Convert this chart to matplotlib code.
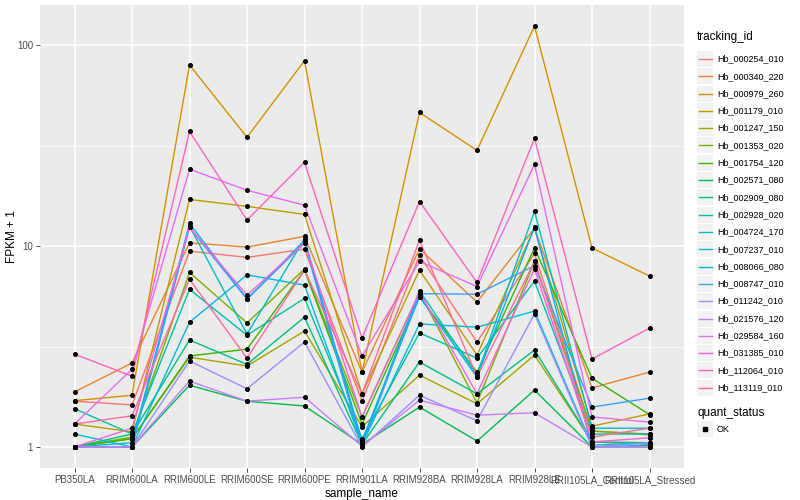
import math
import numpy as np
import matplotlib
matplotlib.use("Agg")
import matplotlib.pyplot as plt
from matplotlib.lines import Line2D
from matplotlib.patches import Rectangle

plt.rcParams['font.family'] = ['Liberation Sans', 'DejaVu Sans']

samples = ["PB350LA", "RRIM600LA", "RRIM600LE", "RRIM600SE", "RRIM600PE",
           "RRIM901LA", "RRIM928BA", "RRIM928LA", "RRIM928LE",
           "RRII105LA_Control", "RRII105LA_Stressed"]

tracking_ids = ["Hb_000254_010", "Hb_000340_220", "Hb_000979_260", "Hb_001179_010",
                "Hb_001247_150", "Hb_001353_020", "Hb_001754_120", "Hb_002571_080",
                "Hb_002909_080", "Hb_002928_020", "Hb_004724_170", "Hb_007237_010",
                "Hb_008066_080", "Hb_008747_010", "Hb_011242_010", "Hb_021576_120",
                "Hb_029584_160", "Hb_031385_010", "Hb_112064_010", "Hb_113119_010"]

# FPKM + 1 values per tracking_id across samples
hb_000254_010 = [1.69, 1.62, 9.45, 8.8, 9.67, 1.69, 9.0, 3.33, 9.2, 1.2, 1.16]
hb_000340_220 = [1.88, 2.62, 10.4, 9.9, 11.2, 2.36, 9.7, 5.27, 12.3, 1.97, 2.36]
hb_000979_260 = [1.70, 1.81, 80.0, 34.9, 84.0, 2.36, 46.4, 30.0, 125.0, 9.8, 7.1]
hb_001179_010 = [1.30, 1.19, 17.1, 15.8, 14.4, 1.84, 7.6, 2.87, 12.3, 1.27, 1.46]
hb_001247_150 = [1.0, 1.10, 2.80, 2.53, 3.78, 1.26, 2.28, 1.64, 2.87, 1.06, 1.03]
hb_001353_020 = [1.0, 1.12, 7.4, 4.15, 7.7, 1.41, 5.9, 1.66, 8.4, 1.2, 1.15]
hb_001754_120 = [1.0, 1.10, 2.84, 3.07, 7.6, 1.30, 5.6, 2.36, 9.8, 2.2, 1.45]
hb_002571_080 = [1.0, 1.0, 2.03, 1.69, 1.60, 1.03, 1.58, 1.07, 1.92, 1.0, 1.0]
hb_002909_080 = [1.0, 1.16, 3.41, 2.58, 4.43, 1.03, 2.65, 1.84, 3.04, 1.06, 1.05]
hb_002928_020 = [1.55, 1.16, 6.1, 3.6, 5.5, 1.10, 3.7, 2.77, 6.7, 1.16, 1.16]
hb_004724_170 = [1.0, 1.05, 12.6, 3.65, 10.9, 1.05, 6.0, 2.28, 14.9, 1.24, 1.24]
hb_007237_010 = [1.16, 1.0, 4.18, 7.2, 6.4, 1.03, 4.1, 3.95, 4.75, 1.02, 1.05]
hb_008066_080 = [1.0, 1.0, 13.0, 5.45, 10.7, 1.07, 5.6, 2.23, 12.5, 1.0, 1.02]
hb_008747_010 = [1.0, 1.0, 12.4, 5.45, 10.4, 1.01, 5.8, 5.77, 8.0, 1.58, 1.75]
hb_011242_010 = [1.0, 1.0, 2.68, 1.95, 3.33, 1.0, 1.81, 1.35, 4.6, 1.0, 1.05]
hb_021576_120 = [1.0, 1.0, 2.13, 1.69, 1.77, 1.01, 1.71, 1.44, 1.48, 1.0, 1.0]
hb_029584_160 = [1.30, 2.44, 24.2, 19.0, 16.0, 2.84, 8.4, 6.3, 25.6, 1.41, 1.33]
hb_031385_010 = [1.0, 1.24, 12.4, 5.7, 10.4, 1.41, 5.9, 1.84, 7.7, 1.06, 1.11]
hb_112064_010 = [2.90, 2.25, 37.3, 13.5, 26.2, 3.49, 16.7, 6.6, 34.5, 2.74, 3.91]
hb_113119_010 = [1.30, 1.43, 6.85, 2.77, 7.6, 1.84, 10.7, 2.23, 8.4, 1.12, 1.24]

series = [hb_000254_010, hb_000340_220, hb_000979_260, hb_001179_010, hb_001247_150,
          hb_001353_020, hb_001754_120, hb_002571_080, hb_002909_080, hb_002928_020,
          hb_004724_170, hb_007237_010, hb_008066_080, hb_008747_010, hb_011242_010,
          hb_021576_120, hb_029584_160, hb_031385_010, hb_112064_010, hb_113119_010]


def hcl_to_rgb(h, c=100.0, l=65.0):
    hr = math.radians(h)
    u, v = c * math.cos(hr), c * math.sin(hr)
    Xn, Yn, Zn = 95.047, 100.0, 108.883
    den = Xn + 15 * Yn + 3 * Zn
    un, vn = 4 * Xn / den, 9 * Yn / den
    Y = Yn * ((l + 16) / 116) ** 3 if l > 8 else Yn * l / 903.3
    up = u / (13 * l) + un
    vp = v / (13 * l) + vn
    X = 9 * Y * up / (4 * vp)
    Z = -X / 3 - 5 * Y + 3 * Y / vp
    X, Y, Z = X / 100, Y / 100, Z / 100
    r = 3.240479 * X - 1.537150 * Y - 0.498535 * Z
    g = -0.969256 * X + 1.875992 * Y + 0.041556 * Z
    b = 0.055648 * X - 0.204043 * Y + 1.057311 * Z

    def gam(t):
        t = 12.92 * t if t <= 0.0031308 else 1.055 * t ** (1 / 2.4) - 0.055
        return min(1.0, max(0.0, t))
    return (gam(r), gam(g), gam(b))


n = len(tracking_ids)
colors = [hcl_to_rgb(15 + 360 * i / n) for i in range(n)]

W, H = 800, 500
fig = plt.figure(figsize=(8, 5), dpi=100)
px_l, px_r, px_t, px_b = 40, 684, 5, 468
ax = fig.add_axes([px_l / W, 1 - px_b / H, (px_r - px_l) / W, (px_b - px_t) / H])
ax.set_facecolor("#EBEBEB")

x = np.arange(len(samples))
for vals, col in zip(series, colors):
    ax.plot(x, vals, color=col, lw=1.0, zorder=3)
for vals in series:
    ax.plot(x, vals, linestyle="none", marker="o", ms=2.6, color="black", zorder=4)

ax.set_yscale("log")
allv = np.concatenate([np.array(s) for s in series])
lo, hi = np.log10(allv.min()), np.log10(allv.max())
pad = 0.05 * (hi - lo)
ax.set_ylim(10 ** (lo - pad), 10 ** (hi + pad))
ax.set_xlim(-0.6, len(samples) - 0.4)

ax.set_yticks([1, 10, 100])
ax.set_yticklabels(["1", "10", "100"])
ax.set_yticks([10 ** 0.5, 10 ** 1.5], minor=True)
ax.yaxis.set_minor_formatter(matplotlib.ticker.NullFormatter())
ax.set_xticks(x)
ax.set_xticklabels(samples)

ax.grid(True, which="major", color="white", lw=1.1, zorder=0)
ax.grid(True, which="minor", axis="y", color="white", lw=0.5, zorder=0)
ax.set_axisbelow(True)
for s in ax.spines.values():
    s.set_visible(False)
ax.tick_params(axis="both", which="major", length=3, width=0.6, color="#333333",
               labelcolor="#4D4D4D", labelsize=7, pad=2)
ax.tick_params(axis="y", which="minor", length=0)

ax.set_xlabel("sample_name", fontsize=8.5, labelpad=2)
ax.set_ylabel("FPKM + 1", fontsize=8.5)
ax.yaxis.set_label_coords((18 - px_l) / (px_r - px_l), 0.5)

# legend (drawn in figure pixel coords)
def fx(p):
    return p / W

def fy(p):
    return 1 - p / H

fig.text(fx(697), fy(40), "tracking_id", fontsize=8.5, va="baseline", ha="left")
y0, dy = 59, 17.3
for i, (tid, col) in enumerate(zip(tracking_ids, colors)):
    yc = y0 + i * dy
    fig.patches.append(Rectangle((fx(697), fy(yc + 8)), fx(16), 16 / H,
                                 transform=fig.transFigure, facecolor="#F2F2F2",
                                 edgecolor="none"))
    fig.lines.append(Line2D([fx(698.5), fx(711.5)], [fy(yc), fy(yc)],
                            transform=fig.transFigure, color=col, lw=1.0))
    fig.text(fx(717), fy(yc), tid, fontsize=6.5, va="center", ha="left")

fig.text(fx(697), fy(416), "quant_status", fontsize=8.5, va="baseline", ha="left")
fig.patches.append(Rectangle((fx(697), fy(437)), fx(16), 16 / H,
                             transform=fig.transFigure, facecolor="#F2F2F2",
                             edgecolor="none"))
fig.lines.append(Line2D([fx(705)], [fy(429)], transform=fig.transFigure,
                        marker="s", ms=2.6, color="black", linestyle="none"))
fig.text(fx(717), fy(429), "OK", fontsize=6.5, va="center", ha="left")

fig.savefig("out.png", dpi=100, facecolor="white")
